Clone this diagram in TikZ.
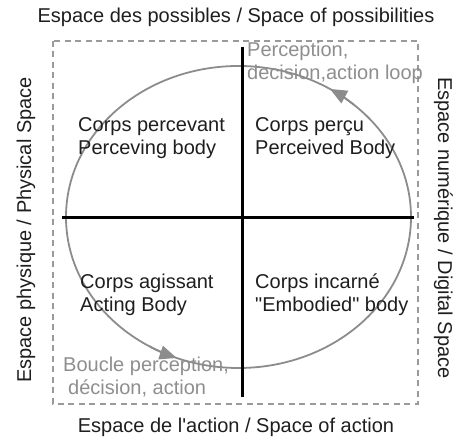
\documentclass[tikz,border=0pt]{standalone}
\usepackage{fontspec}
\setmainfont{Liberation Sans}
\usetikzlibrary{arrows.meta,calc}
\definecolor{txtc}{HTML}{1E1E1E}
\definecolor{loopc}{HTML}{8C8C8C}
\definecolor{dashc}{HTML}{9A9A9A}
\definecolor{graytxt}{HTML}{8E8E8E}
\tikzset{
  lbl/.style={font=\fontsize{20}{23}\selectfont, text=txtc, inner sep=0pt, anchor=base west, align=left},
  glbl/.style={lbl, text=graytxt},
  title/.style={font=\fontsize{20}{23}\selectfont, text=txtc, inner sep=0pt},
  axis/.style={line width=3pt, black},
  loopline/.style={line width=1.8pt, loopc},
  looparrow/.style={loopline, -{Triangle[length=17pt,width=14pt]}},
  frame/.style={line width=2pt, dashc, dash pattern=on 6pt off 4.5pt}
}
\begin{document}
\begin{tikzpicture}[x=1pt,y=1pt]
\useasboundingbox (0,0) rectangle (461,438);
% frame
\draw[frame] (53,397) rectangle (418,34);
% ellipse loop
\coordinate (c) at (238.5,221);
\draw[loopline] (c) ellipse [x radius=172.5, y radius=151];
\draw[looparrow] ($(c)+(48:172.5 and 151)$) arc [start angle=48, end angle=58, x radius=172.5, y radius=151];
\draw[looparrow] ($(c)+(239:172.5 and 151)$) arc [start angle=239, end angle=249, x radius=172.5, y radius=151];
% axes
\coordinate (vt) at (242,391);
\coordinate (vb) at (242,41);
\coordinate (hl) at (62,220);
\coordinate (hr) at (414,220);
\draw[axis] (vt) -- (vb);
\draw[axis] (hl) -- (hr);
% quadrant labels (anchor = baseline of last line)
\node[lbl] (q1) at (78,283) {Corps percevant\\Perceving body};
\node[lbl] (q2) at (255,283) {Corps perçu\\Perceived Body};
\node[lbl] (q3) at (80,126) {Corps agissant\\Acting Body};
\node[lbl] (q4) at (255,126) {Corps incarné\\\textquotedbl Embodied\textquotedbl{} body};
% loop labels
\node[glbl] (l1) at (247,358) {Perception,\\decision,action loop};
\node[glbl] (l2) at (63,43) {Boucle perception,\\\hspace*{5pt}décision, action};
% titles
\node[title, anchor=base] (tt) at (236,415) {Espace des possibles / Space of possibilities};
\node[title, anchor=base] (tb) at (236,5) {Espace de l\textquotesingle action / Space of action};
\node[title, rotate=90, anchor=base] (tl) at (31,208) {Espace physique / Physical Space};
\node[title, rotate=-90, anchor=base] (tr) at (438,210) {Espace numérique / Digital Space};
\end{tikzpicture}
\end{document}
